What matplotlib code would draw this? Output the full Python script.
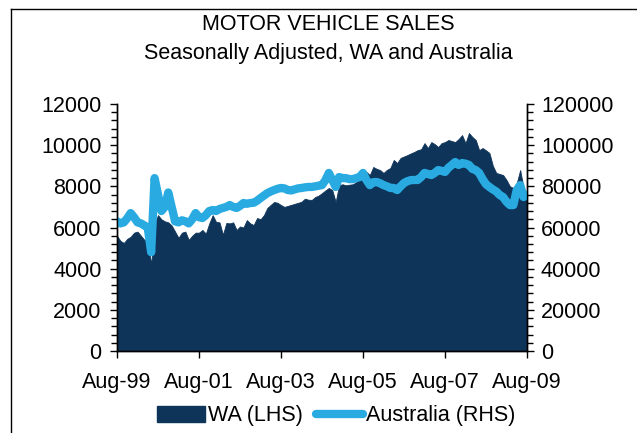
import matplotlib
matplotlib.use("Agg")
import matplotlib.pyplot as plt
import numpy as np
from matplotlib.lines import Line2D
from matplotlib.patches import Patch

plt.rcParams["font.family"] = ["Liberation Sans", "DejaVu Sans"]

# Monthly, Aug-99 .. Aug-09 (121 months)
wa_sales = [
    5600, 5350, 5250, 5450, 5550, 5750, 5800, 5600, 5400, 5350,
    4200, 6200, 6600, 6400, 6300, 6250, 6100, 5800, 5500, 5750,
    5800, 5400, 5600, 5750, 5750, 5880, 5700, 6200, 6600, 6270,
    6250, 5650, 6220, 6200, 6250, 5880, 6050, 6000, 6360, 6200,
    6120, 6460, 6400, 6600, 6950, 7100, 7240, 7200, 7090, 7000,
    7050, 7100, 7150, 7200, 7250, 7400, 7350, 7340, 7480, 7550,
    7670, 7800, 7920, 7820, 7240, 8060, 8100, 8050, 8080, 8100,
    8200, 8400, 8700, 8700, 8550, 8940, 8850, 8790, 8650, 8800,
    8890, 9280, 9130, 9380, 9450, 9520, 9600, 9670, 9760, 9800,
    10100, 9860, 10150, 10050, 9910, 10100, 10150, 10250, 10200, 10150,
    10300, 10490, 10100, 10590, 10400, 10250, 9760, 9860, 9750, 9620,
    9000, 8650, 8600, 8550, 8310, 8000, 7920, 8160, 8790, 7920,
    7600,
]
aus_sales = [
    63000, 62000, 62500, 64500, 67000, 65000, 62500, 62000, 61000, 60000,
    48000, 84000, 76000, 68000, 70000, 77000, 70000, 63000, 62500, 63500,
    63000, 62000, 64000, 67000, 65000, 64600, 66000, 68000, 68500, 68000,
    69000, 69500, 70000, 70900, 70000, 69500, 70500, 71900, 71500, 71900,
    72000, 73000, 74300, 75500, 76700, 77500, 78200, 78800, 79200, 79000,
    78200, 78000, 78500, 79000, 79200, 79500, 79700, 79700, 80000, 80300,
    80600, 83000, 86500, 83100, 79700, 84500, 84000, 84000, 83500, 83500,
    84000, 84500, 86500, 83100, 80600, 82000, 82100, 81500, 80600, 80000,
    79200, 79200, 78200, 80000, 81600, 82500, 83000, 83100, 83100, 84500,
    86500, 86000, 85500, 86500, 87900, 87500, 87000, 89000, 90400, 91800,
    90400, 91300, 91000, 90400, 88500, 87900, 86500, 83500, 81000, 79700,
    78500, 77500, 75800, 74800, 72500, 70900, 70900, 78200, 80600, 74800,
    75800,
]
x_tick_labels = ["Aug-99", "Aug-01", "Aug-03", "Aug-05", "Aug-07", "Aug-09"]

NAVY = "#0f3459"
LIGHT_BLUE = "#29abe2"
FS = 15.5

months = np.arange(len(wa_sales))

fig = plt.figure(figsize=(6.37, 4.33), dpi=100)
ax = fig.add_axes([117 / 637, 1 - 351 / 433, 410 / 637, 247 / 433])
ax2 = ax.twinx()

ax.fill_between(months, 0, wa_sales, color=NAVY, lw=0.6, edgecolor=NAVY)
ax2.plot(months, aus_sales, color=LIGHT_BLUE, lw=6, solid_joinstyle="round",
         solid_capstyle="round")

ax.set_xlim(0, len(months) - 1)
ax.set_ylim(0, 12000)
ax2.set_ylim(0, 120000)

ax.set_xticks(np.arange(0, len(months), 24))
ax.set_xticklabels(x_tick_labels, fontsize=FS)
ax.set_yticks(np.arange(0, 12001, 2000))
ax.set_yticks(np.arange(0, 12001, 400), minor=True)
ax.tick_params(axis="y", labelsize=FS, direction="out", length=5, width=1, pad=6)
ax.tick_params(axis="y", which="minor", direction="out", length=4, width=1)
ax.tick_params(axis="x", direction="out", length=5, width=1, pad=10)

ax2.set_yticks(np.arange(0, 120001, 20000))
ax2.set_yticks(np.arange(0, 120001, 4000), minor=True)
ax2.tick_params(axis="y", labelsize=FS, direction="out", length=5, width=1, pad=5)
ax2.tick_params(axis="y", which="minor", direction="out", length=4, width=1)

for a in (ax, ax2):
    a.spines["top"].set_visible(False)
    for s in ("left", "right", "bottom"):
        a.spines[s].set_color("black")
        a.spines[s].set_linewidth(1)

fig.text(0.516, 1 - 24 / 433, "MOTOR VEHICLE SALES", ha="center", va="center",
         fontsize=FS)
fig.text(0.516, 1 - 53 / 433, "Seasonally Adjusted, WA and Australia",
         ha="center", va="center", fontsize=FS)

handles = [
    Patch(facecolor=NAVY, edgecolor=NAVY),
    Line2D([0], [0], color=LIGHT_BLUE, lw=6, solid_capstyle="round"),
]
fig.legend(handles, ["WA (LHS)", "Australia (RHS)"], loc="center",
           bbox_to_anchor=(0.528, 1 - 416 / 433), ncol=2, frameon=False,
           fontsize=FS, handlelength=2.2, handletextpad=0.15,
           columnspacing=0.6, borderpad=0)

# chart border (left and top edges visible in the crop)
fig.add_artist(Line2D([11 / 637, 11 / 637], [0, 1 - 9 / 433],
                      transform=fig.transFigure, color="black", lw=1))
fig.add_artist(Line2D([11 / 637, 1], [1 - 9 / 433, 1 - 9 / 433],
                      transform=fig.transFigure, color="black", lw=1))

fig.savefig("out.png", dpi=100)
plt.close(fig)
